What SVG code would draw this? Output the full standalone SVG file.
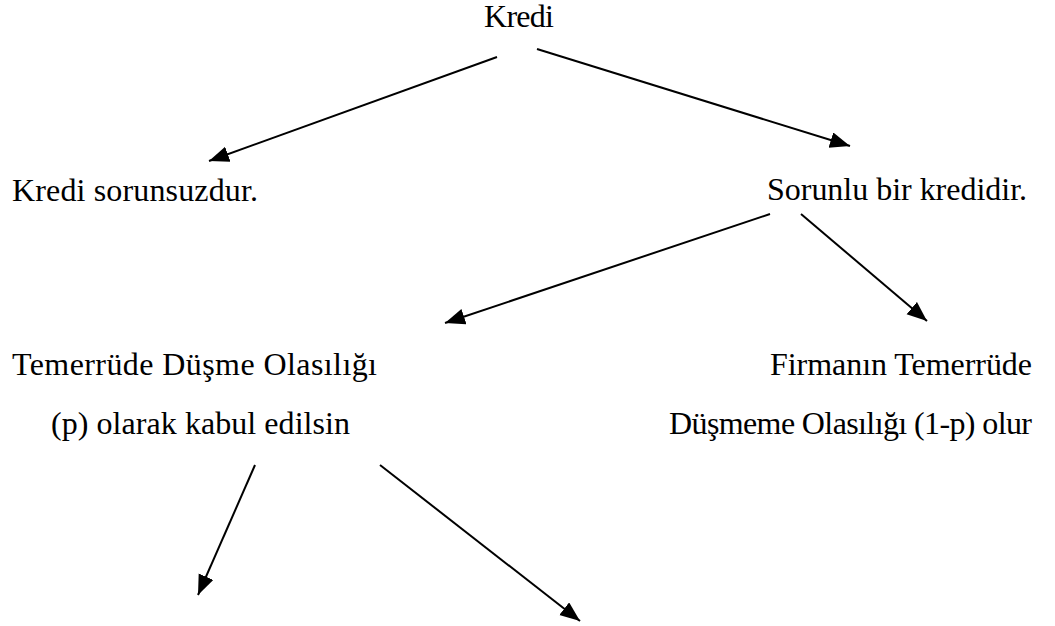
<svg xmlns="http://www.w3.org/2000/svg" width="1055" height="626" viewBox="0 0 1055 626">
<defs>
<marker id="ah" markerUnits="userSpaceOnUse" markerWidth="21" markerHeight="17" refX="20" refY="8" orient="auto">
<path d="M0,0 L20,8 L0,16 z" fill="#000"/>
</marker>
</defs>
<rect width="1055" height="626" fill="#fff"/>
<g font-family="'Liberation Serif', Tinos, 'Times New Roman', 'DejaVu Serif', serif" font-size="32" fill="#000">
<g id="n-kredi"><text x="484" y="27" textLength="70">Kredi</text></g>
<g id="n-sorunsuz"><text x="12" y="201" textLength="246">Kredi sorunsuzdur.</text></g>
<g id="n-sorunlu"><text x="767" y="200" textLength="260">Sorunlu bir kredidir.</text></g>
<g id="n-temerrut"><text x="12" y="375" textLength="365">Temerrüde Düşme Olasılığı</text><text x="51" y="434" textLength="299">(p) olarak kabul edilsin</text></g>
<g id="n-firma"><text x="770" y="375" textLength="262">Firmanın Temerrüde</text><text x="669" y="434" textLength="363">Düşmeme Olasılığı (1-p) olur</text></g>
</g>
<g id="connectors" stroke="#000" stroke-width="2" marker-end="url(#ah)">
<line x1="497" y1="57" x2="209" y2="161"/>
<line x1="537" y1="49" x2="850" y2="146"/>
<line x1="770" y1="214" x2="445" y2="323"/>
<line x1="801" y1="214" x2="927" y2="321"/>
<line x1="255" y1="465" x2="198" y2="595"/>
<line x1="380" y1="465" x2="580" y2="621"/>
</g>
</svg>
